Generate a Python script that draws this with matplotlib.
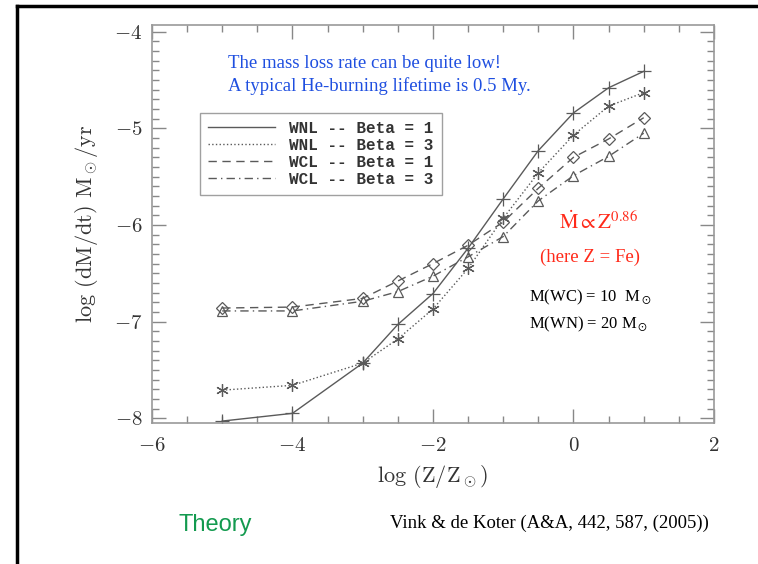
import numpy as np
import matplotlib
matplotlib.use("Agg")
import matplotlib.pyplot as plt
from matplotlib.ticker import MultipleLocator

plt.rcParams['font.family'] = ['cmr10', 'DejaVu Serif']
plt.rcParams['mathtext.fontset'] = 'cm'
plt.rcParams['axes.formatter.use_mathtext'] = True

# log(Z/Zsun) grid of the models
log_z = [-5, -4, -3, -2.5, -2, -1.5, -1, -0.5, 0, 0.5, 1]

# log mass-loss rates (Msun/yr)
wnl_beta1 = [-8.03, -7.95, -7.43, -7.03, -6.71, -6.24, -5.73, -5.23, -4.84, -4.58, -4.41]
wnl_beta3 = [-7.71, -7.66, -7.43, -7.18, -6.87, -6.45, -5.93, -5.46, -5.07, -4.77, -4.63]
wcl_beta1 = [-6.86, -6.85, -6.76, -6.58, -6.40, -6.21, -5.97, -5.62, -5.30, -5.11, -4.89]
wcl_beta3 = [-6.89, -6.89, -6.79, -6.69, -6.53, -6.33, -6.12, -5.75, -5.49, -5.29, -5.05]

labels = ["WNL -- Beta = 1", "WNL -- Beta = 3", "WCL -- Beta = 1", "WCL -- Beta = 3"]

fig = plt.figure(figsize=(7.58, 5.64), dpi=100)
ax = fig.add_axes([0.2005, 0.25, 0.7414, 0.7057])

gray = '#5a5a5a'
ax.plot(log_z, wnl_beta1, '-', color=gray, lw=1.0, marker='+', ms=10, mew=0.9, label=labels[0])
ax.plot(log_z, wnl_beta3, ':', color=gray, lw=1.0, marker=(6, 2, 0), ms=9, mew=0.9, label=labels[1])
ax.plot(log_z, wcl_beta1, '--', color=gray, lw=1.0, dashes=(6, 4), marker='D', ms=6, mfc='none', mew=0.9, label=labels[2])
ax.plot(log_z, wcl_beta3, '-.', color=gray, lw=1.0, dashes=(6, 3, 1, 3), marker='^', ms=7, mfc='none', mew=0.9, label=labels[3])

ax.set_xlim(-6, 2)
ax.set_ylim(-8.05, -3.93)
ax.xaxis.set_major_locator(MultipleLocator(2))
ax.xaxis.set_minor_locator(MultipleLocator(0.5))
ax.yaxis.set_major_locator(MultipleLocator(1))
ax.yaxis.set_minor_locator(MultipleLocator(0.1))
ax.tick_params(which='both', direction='in', top=True, right=True, colors='#888888',
               labelcolor='#333333', labelsize=15)
ax.tick_params(which='major', length=10, width=1)
ax.tick_params(which='minor', length=5, width=1)
ax.tick_params(axis='x', pad=10)
ax.tick_params(axis='y', pad=7)
for sp in ax.spines.values():
    sp.set_color('#999999')
    sp.set_linewidth(1.2)

ax.set_xlabel(r"log (Z/Z$_\odot$)", fontsize=16, color='#333333', labelpad=6)
ax.set_ylabel(r"log (dM/dt) M$_\odot$/yr", fontsize=16, color='#333333', labelpad=10)

leg = ax.legend(loc='upper left', bbox_to_anchor=(0.085, 0.779), borderaxespad=0,
                fancybox=False, edgecolor='#888888', handlelength=4.2,
                prop={'family': 'Liberation Mono', 'size': 11.5, 'weight': 'bold'},
                labelspacing=0.12, borderpad=0.5, handletextpad=0.9)
for h in leg.legend_handles:
    h.set_marker('')
for t in leg.get_texts():
    t.set_color('#333333')

# slide annotations
ser = 'Liberation Serif'
fig.text(0.301, 0.888, "The mass loss rate can be quite low!", family=ser, fontsize=13.5, color='#1f4fe0', va='center')
fig.text(0.301, 0.847, "A typical He-burning lifetime is 0.5 My.", family=ser, fontsize=13.5, color='#1f4fe0', va='center')
fig.text(0.738, 0.607, r"$\dot{\rm M} \propto {\rm Z}^{0.86}$", fontsize=15, color='#ff2a1a',
         va='center', math_fontfamily='stix')
fig.text(0.712, 0.544, "(here Z = Fe)", family=ser, fontsize=13.5, color='#ff2a1a', va='center')
fig.text(0.698, 0.472, r"M(WC) = 10  M$_\odot$", family=ser, fontsize=12, color='black', va='center',
         math_fontfamily='stix')
fig.text(0.698, 0.424, r"M(WN) = 20 M$_\odot$", family=ser, fontsize=12, color='black', va='center',
         math_fontfamily='stix')
fig.text(0.236, 0.069, "Theory", family='Liberation Sans', fontsize=17, color='#139a4f', va='center')
fig.text(0.514, 0.072, "Vink & de Koter (A&A, 442, 587, (2005))", family=ser, fontsize=13.5, color='black', va='center')

# slide frame
fig.add_artist(plt.Line2D([0.0224, 0.0224], [0.0, 0.989], transform=fig.transFigure, color='black', lw=2.5))
fig.add_artist(plt.Line2D([0.0224, 1.0], [0.989, 0.989], transform=fig.transFigure, color='black', lw=2.5))

fig.savefig("out.png", dpi=100)
